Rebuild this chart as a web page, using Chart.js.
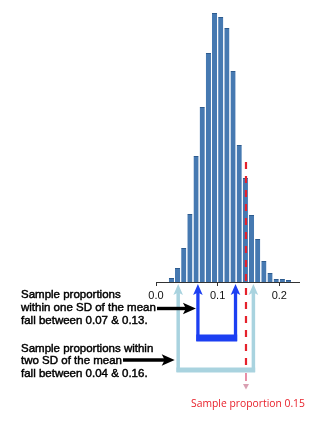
<!DOCTYPE html>
<html>
<head>
<meta charset="utf-8">
<script src="https://cdn.jsdelivr.net/npm/chart.js@4"></script>
<style>
  html,body{margin:0;padding:0;background:#fff;}
  #wrap{width:325px;height:425px;}
</style>
</head>
<body>
<div id="wrap"><canvas id="c" width="325" height="425"></canvas></div>
<script>
// ---- data ----
const binCenters = [0.025,0.035,0.045,0.055,0.065,0.075,0.085,0.095,0.105,0.115,
                    0.125,0.135,0.145,0.155,0.165,0.175,0.185,0.195,0.205,0.215];
const counts     = [4,14,34,68,126,175,229,269,265,254,
                    211,137,104,67,43,21,9,3,3,2];
const tickValues = [0.0, 0.1, 0.2];
const tickLabels = ['0.0', '0.1', '0.2'];
// marker positions (as drawn in the reference)
const oneSD = [0.068, 0.129];
const twoSD = [0.036, 0.158];
const sampleProp = 0.146;
const sampleLineTop = 120; // in count units
const note1 = ['Sample proportions', 'within one SD of the mean', 'fall between 0.07 & 0.13.'];
const note2 = ['Sample proportions within', 'two SD of the mean', 'fall between 0.04 & 0.16.'];
const sampleLabel = 'Sample proportion 0.15';

function arrowUp(ctx, x, tipY, bottomY, color, lw) {
  ctx.save();
  ctx.strokeStyle = color; ctx.fillStyle = color; ctx.lineWidth = lw;
  ctx.beginPath(); ctx.moveTo(x, tipY + 8); ctx.lineTo(x, bottomY); ctx.stroke();
  ctx.beginPath(); ctx.moveTo(x, tipY); ctx.lineTo(x - 4.8, tipY + 11); ctx.lineTo(x, tipY + 8.5); ctx.lineTo(x + 4.8, tipY + 11); ctx.closePath(); ctx.fill();
  ctx.restore();
}
function arrowRight(ctx, x0, x1, y) {
  ctx.save();
  ctx.strokeStyle = '#000'; ctx.fillStyle = '#000'; ctx.lineWidth = 3.4;
  ctx.beginPath(); ctx.moveTo(x0, y); ctx.lineTo(x1 - 8, y); ctx.stroke();
  ctx.beginPath(); ctx.moveTo(x1, y); ctx.lineTo(x1 - 13, y - 5.8); ctx.lineTo(x1 - 10, y); ctx.lineTo(x1 - 13, y + 5.8); ctx.closePath(); ctx.fill();
  ctx.restore();
}
function boldText(ctx, t, x, y) {
  ctx.fillText(t, x, y);
  ctx.strokeText(t, x, y);
}

const annot = {
  id: 'annot',
  afterDatasetsDraw(chart) {
    const ctx = chart.ctx, xs = chart.scales.x, ys = chart.scales.y;
    const base = chart.chartArea.bottom;
    const tipY = base + 2;
    // light blue (two SD) bracket
    const lb = '#a9d3df';
    const a = xs.getPixelForValue(twoSD[0]), b = xs.getPixelForValue(twoSD[1]);
    arrowUp(ctx, a, tipY, base + 90, lb, 3.5);
    arrowUp(ctx, b, tipY, base + 90, lb, 3.5);
    ctx.fillStyle = lb; ctx.fillRect(a - 1.75, base + 85.5, b - a + 3.5, 5);
    // dark blue (one SD) bracket
    const db = '#1c3ff2';
    const c = xs.getPixelForValue(oneSD[0]), d = xs.getPixelForValue(oneSD[1]);
    arrowUp(ctx, c, tipY, base + 59, db, 3.3);
    arrowUp(ctx, d, tipY, base + 59, db, 3.3);
    ctx.fillStyle = db; ctx.fillRect(c - 1.65, base + 52.5, d - c + 3.3, 7);
    // red dashed sample-proportion line
    const r = xs.getPixelForValue(sampleProp);
    ctx.save();
    ctx.strokeStyle = '#e5212b'; ctx.lineWidth = 2.2; ctx.setLineDash([7, 7]);
    ctx.beginPath(); ctx.moveTo(r, ys.getPixelForValue(sampleLineTop)); ctx.lineTo(r, base + 84); ctx.stroke();
    ctx.setLineDash([]);
    ctx.strokeStyle = '#e27390'; ctx.lineWidth = 1.6;
    ctx.beginPath(); ctx.moveTo(r, base + 91); ctx.lineTo(r, base + 99); ctx.stroke();
    ctx.fillStyle = '#d9a0b2';
    ctx.beginPath(); ctx.moveTo(r - 3, base + 102); ctx.lineTo(r + 3, base + 102); ctx.lineTo(r, base + 107.5); ctx.closePath(); ctx.fill();
    ctx.restore();
    // black pointer arrows
    arrowRight(ctx, 157, c - 2, base + 26.5);
    arrowRight(ctx, 123, a - 3.5, base + 78);
    // notes
    ctx.save();
    ctx.fillStyle = '#000'; ctx.strokeStyle = '#000'; ctx.lineWidth = 0.45;
    ctx.font = '11.5px "Liberation Sans", Arial, sans-serif';
    ctx.textAlign = 'left'; ctx.textBaseline = 'alphabetic';
    note1.forEach((t, i) => boldText(ctx, t, 21, base + 16 + i * 12.8));
    note2.forEach((t, i) => boldText(ctx, t, 21, base + 69.5 + i * 12.8));
    // red label
    ctx.fillStyle = '#e8202a';
    ctx.font = '11px "Open Sans", sans-serif';
    const w = ctx.measureText(sampleLabel).width;
    const fs = 11 * 114 / w;
    ctx.font = fs.toFixed(2) + 'px "Open Sans", sans-serif';
    ctx.textAlign = 'center';
    ctx.fillText(sampleLabel, r + 2, base + 125);
    ctx.restore();
  }
};

new Chart(document.getElementById('c'), {
  type: 'bar',
  data: {
    datasets: [{
      data: binCenters.map((x, i) => ({ x: x, y: counts[i] })),
      backgroundColor: '#4679b1',
      borderColor: '#2d5b8e',
      borderWidth: { top: 1, left: 0, right: 0, bottom: 0 },
      borderSkipped: 'start',
      barPercentage: 0.84,
      categoryPercentage: 1.0
    }]
  },
  options: {
    responsive: false,
    animation: false,
    devicePixelRatio: 1,
    layout: { padding: { left: 156, right: 26, top: 0, bottom: 0 } },
    plugins: { legend: { display: false }, tooltip: { enabled: false }, title: { display: false } },
    scales: {
      x: {
        type: 'linear',
        min: 0, max: 0.232,
        offset: false,
        afterBuildTicks: s => { s.ticks = tickValues.map(v => ({ value: v })); },
        afterFit: s => { s.height = 143; },
        ticks: {
          callback: (v, i) => tickLabels[i],
          font: { family: '"Liberation Sans", Arial, sans-serif', size: 11 },
          color: '#111',
          padding: 3,
          maxRotation: 0
        },
        grid: { display: true, offset: false, drawOnChartArea: false, drawTicks: true, tickLength: 4, color: '#333', lineWidth: 1 },
        border: { display: true, color: '#333', width: 1 }
      },
      y: {
        display: false,
        min: 0, max: 282,
        grid: { display: false }
      }
    }
  },
  plugins: [annot]
});
</script>
</body>
</html>
